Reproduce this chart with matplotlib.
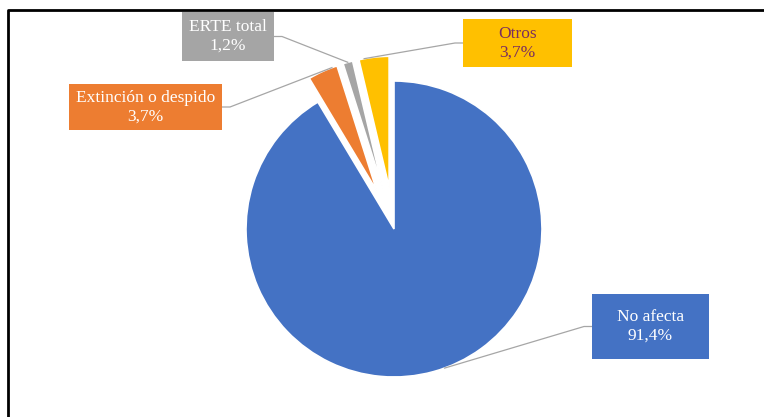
import matplotlib
matplotlib.use("Agg")
import matplotlib.pyplot as plt
from matplotlib.patches import Rectangle
import numpy as np

# Data
categories = ["No afecta", "Extinción o despido", "ERTE total", "Otros"]
shares = [91.4, 3.7, 1.2, 3.7]
pct_labels = ["91,4%", "3,7%", "1,2%", "3,7%"]

# Styling
colors = ["#4472C4", "#ED7D31", "#A5A5A5", "#FFC000"]
text_colors = ["white", "white", "white", "#7A2E5E"]

W, H = 764, 417
fig = plt.figure(figsize=(W / 100, H / 100), dpi=100)
ax = fig.add_axes([0, 0, 1, 1])

# Layout in pixel units (y measured from the top, converted below)
CENTER = (394, H - 229)
RADIUS = 148
SMALL_RADIUS = 131
SHIFT = 42
explode = [0, SHIFT, SHIFT, SHIFT]

wedges, _ = ax.pie(
    shares, explode=explode, colors=colors, startangle=90, counterclock=False,
    center=CENTER, radius=RADIUS, frame=True,
    wedgeprops=dict(edgecolor="white", linewidth=1.2),
)
for w, e in zip(wedges, explode):
    if e:
        w.set_radius(SMALL_RADIUS)

ax.set_xlim(0, W)
ax.set_ylim(0, H)
ax.set_axis_off()

# Callout boxes: (left, top, right, bottom) in pixels from the top-left corner
boxes = [(592, 294, 709, 359), (69, 84, 222, 130), (182, 12, 274, 61), (463, 19, 572, 67)]
# side of the box where the leader line leaves, and clockwise angle of its anchor on the slice
sides = ["left", "right", "right", "left"]
anchor_cw = [160, 340, 344.5, 349]

for w, cat, pct, col, tcol, box, side, acw in zip(
        wedges, categories, pct_labels, colors, text_colors, boxes, sides, anchor_cw):
    l, t, r, b = box
    ax.add_patch(Rectangle((l, H - b), r - l, b - t, facecolor=col, edgecolor="none", zorder=4))
    ax.text((l + r) / 2, H - (t + b) / 2, f"{cat}\n{pct}", ha="center", va="center",
            color=tcol, fontsize=12.5, family="Liberation Serif", linespacing=1.25, zorder=5)
    # leader line from box edge to slice
    ymid = H - (t + b) / 2
    if side == "left":
        x0, x1 = l, l - 8
    else:
        x0, x1 = r, r + 8
    ang = np.deg2rad(90 - acw)
    cx, cy = w.center
    ax_, ay_ = cx + w.r * np.cos(ang), cy + w.r * np.sin(ang)
    ax.plot([x0, x1, ax_], [ymid, ymid, ay_], color="#A6A6A6", lw=0.9, zorder=3,
            solid_joinstyle="round")

# Outer frame (top and left edges visible)
ax.plot([8, 8, W + 5], [-5, H - 10, H - 10], color="black", lw=2, clip_on=False, zorder=6)

fig.savefig("out.png", dpi=100, facecolor="white")
